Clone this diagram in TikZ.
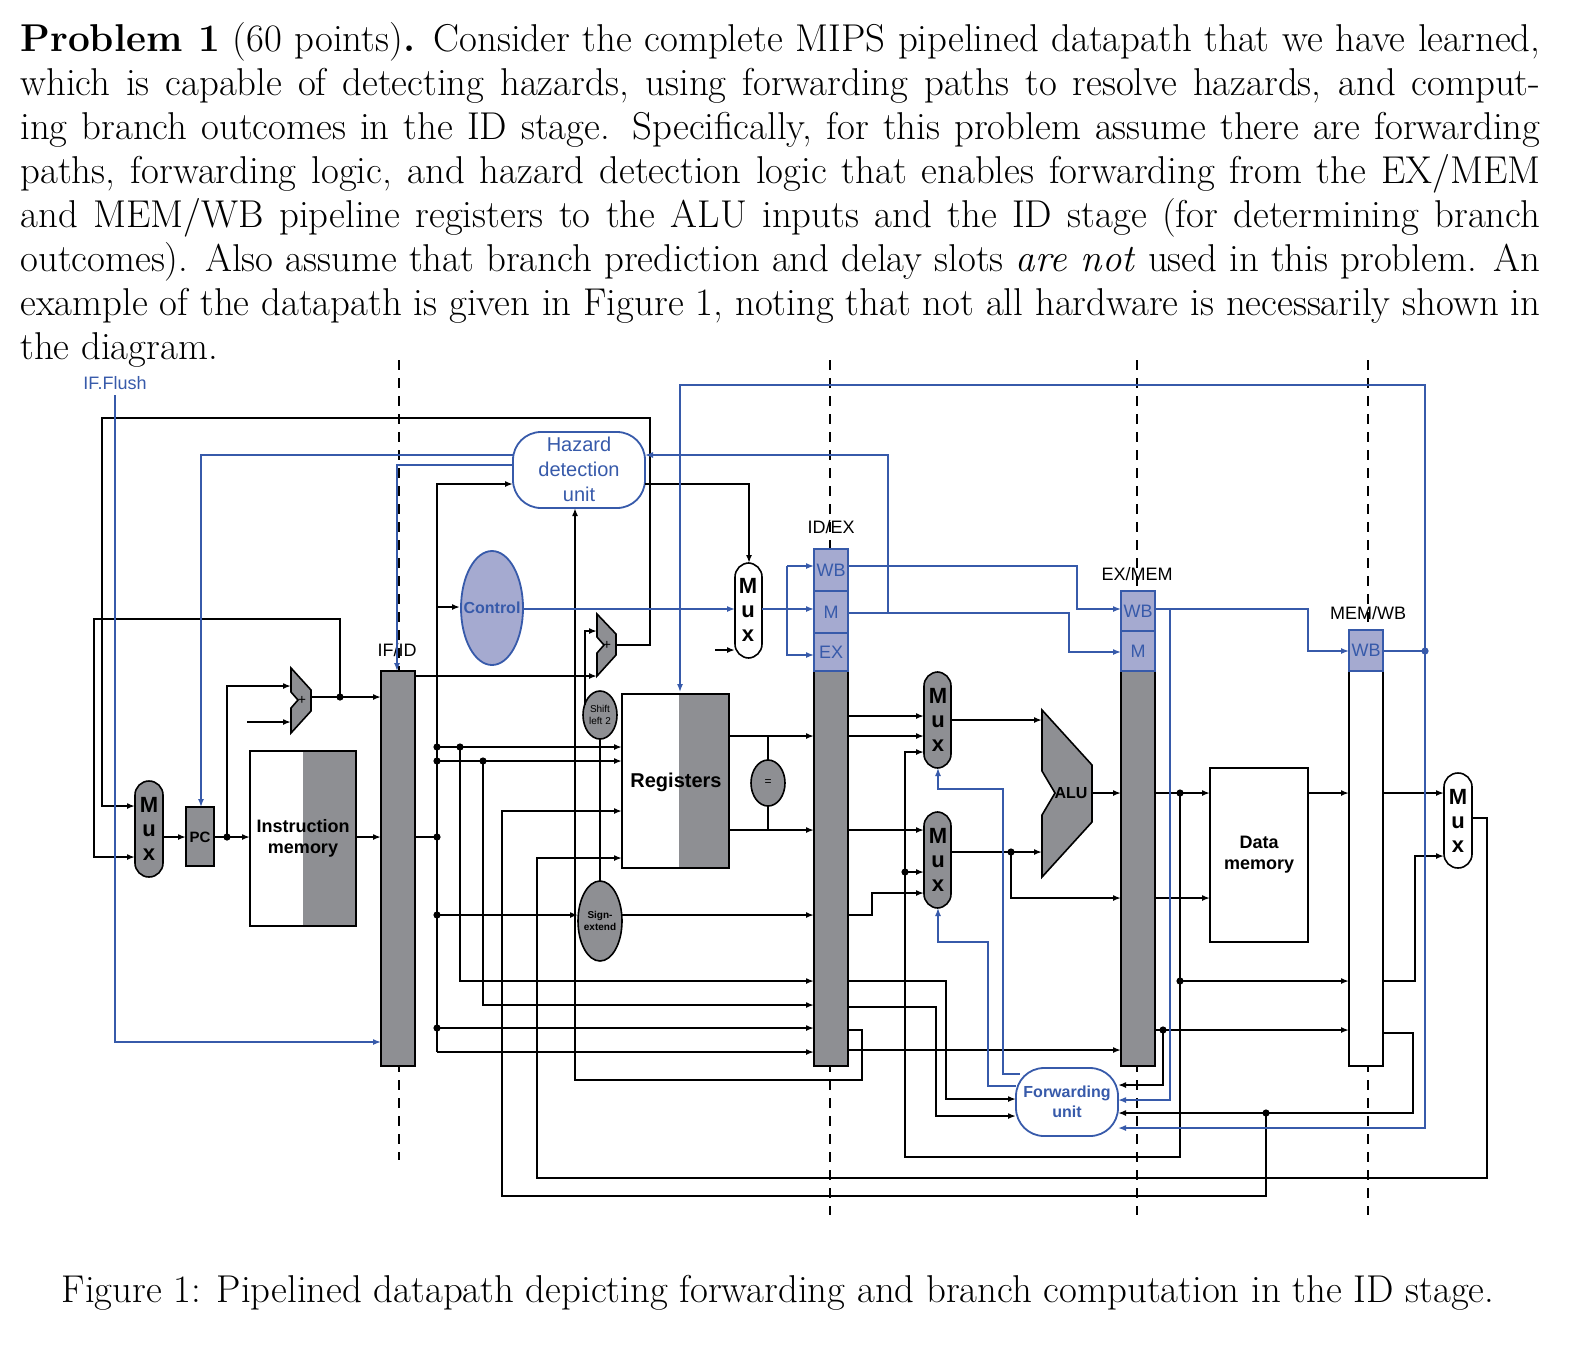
\documentclass[tikz,border=0pt]{standalone}
\usepackage{fontspec}
\usetikzlibrary{arrows.meta,shapes.geometric}
\newfontfamily\dfont{Liberation Sans}
\definecolor{bl}{RGB}{55,90,170}
\definecolor{bfill}{RGB}{165,170,208}
\definecolor{gf}{RGB}{142,143,147}
\begin{document}
\begin{tikzpicture}[x=0.5pt,y=-0.5pt,
  a/.style={-{Latex[length=4pt,width=3pt]},line width=0.8pt},
  l/.style={line width=0.8pt},
  ab/.style={-{Latex[length=4pt,width=3pt]},draw=bl,line width=0.7pt},
  lb/.style={draw=bl,line width=0.7pt},
  reg/.style={draw,line width=0.8pt,fill=gf},
  dsh/.style={dashed,line width=0.6pt,dash pattern=on 5pt off 4pt},
  t/.style={font=\dfont\fontsize{9}{10}\selectfont},
  tb/.style={font=\dfont\bfseries\fontsize{9}{10.5}\selectfont,align=center},
  mx/.style={font=\dfont\bfseries\fontsize{11}{12}\selectfont,align=center,inner sep=0pt}]
\useasboundingbox (0,0) rectangle (1572,1355);
\node[anchor=north west,text width=760pt,align=justify,inner sep=0pt,font=\fontsize{19.4}{22}\selectfont] (para) at (20,22)
{\textbf{Problem 1} (60 points)\textbf{.} Consider the complete MIPS pipelined datapath that we have learned, which is capable of detecting hazards, using forwarding paths to resolve hazards, and computing branch outcomes in the ID stage. Specifically, for this problem assume there are forwarding paths, forwarding logic, and hazard detection logic that enables forwarding from the EX/MEM and MEM/WB pipeline registers to the ALU inputs and the ID stage (for determining branch outcomes). Also assume that branch prediction and delay slots \emph{are not} used in this problem. An example of the datapath is given in Figure 1, noting that not all hardware is necessarily shown in the diagram.};
\node[font=\fontsize{19.4}{22}\selectfont] (cap) at (778,1293) {Figure 1: Pipelined datapath depicting forwarding and branch computation in the ID stage.};

% dashed stage lines
\draw[dsh] (399,360) -- (399,1160);
\draw[dsh] (830,360) -- (830,1215);
\draw[dsh] (1137,360) -- (1137,1215);
\draw[dsh] (1368,360) -- (1368,1215);

% pipeline registers
\draw[reg] (381,671) rectangle (415,1066); \node[t] (lifid) at (397,650) {IF/ID};
\draw[reg] (814,671) rectangle (848,1066); \node[t] (lidex) at (831,527) {ID/EX};
\draw[reg] (1121,671) rectangle (1155,1066); \node[t] (lexm) at (1137,574) {EX/MEM};
\draw[line width=0.8pt,fill=white] (1349,671) rectangle (1383,1066); \node[t] (lmw) at (1368,613) {MEM/WB};
\foreach \y/\h/\s in {549/591/WB,591/633/M,633/671/EX}
  \draw[draw=bl,fill=bfill,line width=0.7pt] (814,\y) rectangle node[t,text=bl]{\s} (848,\h);
\foreach \y/\h/\s in {591/631/WB,631/671/M}
  \draw[draw=bl,fill=bfill,line width=0.7pt] (1121,\y) rectangle node[t,text=bl]{\s} (1155,\h);
\draw[draw=bl,fill=bfill,line width=0.7pt] (1349,630) rectangle node[t,text=bl]{WB} (1383,671);

% units
\draw[bl,line width=0.9pt,rounded corners=14pt,fill=white] (513,432) rectangle (645,508);
\node[t,text=bl,align=center,font=\dfont\fontsize{10}{12.5}\selectfont] (haz) at (579,469) {Hazard\\detection\\unit};
\draw[bl,line width=0.9pt,fill=bfill] (492,608) ellipse (31 and 57);
\node[font=\dfont\bfseries\fontsize{8}{9}\selectfont,text=bl] (ctrl) at (492,608) {Control};
\draw[line width=0.8pt,fill=gf,rounded corners=7pt] (135,781) rectangle (163,877);
\node[mx] (mux1) at (149,829) {M\\u\\x};
\draw[reg] (186,807) rectangle (214,866); \node[font=\dfont\bfseries\fontsize{7.5}{8}\selectfont] (pc) at (200,837) {PC};
\draw[line width=0.8pt,fill=white] (250,751) rectangle (356,926);
\fill[gf] (303,751) rectangle (356,926); \draw[line width=0.8pt] (250,751) rectangle (356,926);
\node[tb] (imem) at (303,838) {Instruction\\memory};
\draw[reg] (291,668) -- (311,690) -- (311,711) -- (291,733) -- (291,708) -- (298,700) -- (291,692) -- cycle;
\node[font=\dfont\fontsize{7}{8}\selectfont] (add1) at (302,700) {+};
\draw[reg] (597,614) -- (616,634) -- (616,655) -- (597,676) -- (597,653) -- (604,645) -- (597,637) -- cycle;
\node[font=\dfont\fontsize{7}{8}\selectfont] (add2) at (607,645) {+};
\draw[reg] (600,715) ellipse (17 and 24);
\node[font=\dfont\fontsize{5}{6}\selectfont,align=center] (sl2) at (600,715) {Shift\\left 2};
\draw[reg] (600,921) ellipse (22 and 40);
\node[font=\dfont\bfseries\fontsize{5}{6}\selectfont,align=center] (sext) at (600,921) {Sign-\\extend};
\fill[gf] (679,694) rectangle (729,868); \draw[line width=0.8pt] (622,694) rectangle (729,868);
\node[tb,font=\dfont\bfseries\fontsize{10}{12}\selectfont] (regs) at (676,782) {Registers};
\draw[l] (768,736) -- (768,830);
\draw[reg] (768,783) ellipse (17 and 23); \node[font=\dfont\fontsize{6}{7}\selectfont] (eq) at (768,783) {=};
\draw[line width=0.8pt,fill=white,rounded corners=7pt] (735,563) rectangle (762,658);
\node[mx] (mux2) at (748,610) {M\\u\\x};
\draw[line width=0.8pt,fill=gf,rounded corners=7pt] (924,672) rectangle (951,768);
\node[mx] (mux3) at (938,720) {M\\u\\x};
\draw[line width=0.8pt,fill=gf,rounded corners=7pt] (924,812) rectangle (951,908);
\node[mx] (mux4) at (938,860) {M\\u\\x};
\draw[reg] (1042,710) -- (1092,765) -- (1092,822) -- (1042,877) -- (1042,815) -- (1055,793) -- (1042,771) -- cycle;
\node[font=\dfont\bfseries\fontsize{8}{9}\selectfont] (alu) at (1071,793) {ALU};
\draw[line width=0.8pt] (1210,768) rectangle (1308,942);
\node[tb] (dmem) at (1259,855) {Data\\memory};
\draw[line width=0.8pt,fill=white,rounded corners=7pt] (1444,773) rectangle (1472,868);
\node[mx] (mux5) at (1458,821) {M\\u\\x};
\draw[bl,line width=0.9pt,rounded corners=14pt,fill=white] (1016,1068) rectangle (1118,1136);
\node[t,text=bl,align=center,font=\dfont\bfseries\fontsize{8}{10}\selectfont] (fwd) at (1067,1102) {Forwarding\\unit};
\node[t,text=bl] (flush) at (115,383) {IF.Flush};

% ---- black connections ----
\draw[a] (616,645) -- (650,645) -- (650,418) -- (102,418) -- (102,806) -- (135,806);
\draw[a] (340,697) -- (340,619) -- (94,619) -- (94,857) -- (135,857);
\draw[a] (163,837) -- (186,837);
\draw[a] (214,837) -- (250,837);
\draw[a] (227,837) -- (227,686) -- (291,686);
\draw[a] (247,722) -- (291,722);
\draw[a] (311,697) -- (381,697);
\draw[a] (356,837) -- (381,837);
\draw[a] (415,676) -- (597,676);
\draw[a] (585,705) -- (585,631) -- (597,631);
\draw[l] (600,739) -- (600,881);
\draw[l] (415,837) -- (437,837);
\draw[a] (437,1052) -- (437,484) -- (513,484);
\draw[a] (437,607) -- (460,607);
\draw[a] (437,747) -- (622,747);
\draw[a] (437,761) -- (622,761);
\draw[a] (460,747) -- (460,981) -- (814,981);
\draw[a] (483,761) -- (483,1005) -- (814,1005);
\draw[a] (437,915) -- (578,915);
\draw[a] (622,915) -- (814,915);
\draw[a] (437,1028) -- (814,1028);
\draw[a] (437,1052) -- (814,1052);
\draw[a] (848,1050) -- (1121,1050);
\draw[a] (848,1030) -- (862,1030) -- (862,1080) -- (575,1080) -- (575,508);
\draw[a] (848,981) -- (946,981) -- (946,1099) -- (1016,1099);
\draw[a] (848,1007) -- (936,1007) -- (936,1116) -- (1016,1116);
\draw[a] (645,484) -- (749,484) -- (749,563);
\draw[a] (715,650) -- (735,650);
\draw[a] (729,736) -- (814,736);
\draw[a] (729,830) -- (814,830);
\draw[a] (848,716) -- (924,716);
\draw[a] (848,736) -- (924,736);
\draw[a] (848,830) -- (924,830);
\draw[a] (848,915) -- (872,915) -- (872,893) -- (924,893);
\draw[a] (905,872) -- (924,872);
\draw[a] (1180,981) -- (1180,1157) -- (905,1157) -- (905,752) -- (924,752);
\draw[a] (951,720) -- (1042,720);
\draw[a] (951,852) -- (1042,852);
\draw[a] (1011,852) -- (1011,898) -- (1121,898);
\draw[a] (1092,793) -- (1121,793);
\draw[a] (1155,793) -- (1210,793);
\draw[l] (1180,793) -- (1180,981);
\draw[a] (1155,898) -- (1210,898);
\draw[a] (1180,981) -- (1349,981);
\draw[a] (1155,1030) -- (1349,1030);
\draw[a] (1163,1030) -- (1163,1085) -- (1118,1085);
\draw[a] (1308,793) -- (1349,793);
\draw[a] (1383,793) -- (1444,793);
\draw[a] (1383,981) -- (1415,981) -- (1415,856) -- (1444,856);
\draw[a] (1383,1033) -- (1413,1033) -- (1413,1113) -- (1118,1113);
\draw[a] (1266,1113) -- (1266,1196) -- (502,1196) -- (502,811) -- (622,811);
\draw[a] (1472,818) -- (1487,818) -- (1487,1178) -- (537,1178) -- (537,858) -- (622,858);
\foreach \p in {(227,837),(340,697),(437,837),(437,747),(437,761),(460,747),(483,761),(437,915),(437,1028),(905,872),(1011,852),(1180,793),(1180,981),(1163,1030),(1266,1113)}
  \fill \p circle (1.8pt);

% ---- blue connections ----
\draw[ab] (115,395) -- (115,1042) -- (381,1042);
\draw[ab] (513,455) -- (201,455) -- (201,807);
\draw[ab] (513,465) -- (397,465) -- (397,671);
\draw[ab] (523,609) -- (735,609);
\draw[lb] (762,609) -- (787,609);
\draw[ab] (787,566) -- (814,566);
\draw[ab] (787,609) -- (814,609);
\draw[ab] (787,566) -- (787,655) -- (814,655);
\draw[ab] (848,566) -- (1077,566) -- (1077,609) -- (1121,609);
\draw[ab] (848,613) -- (1069,613) -- (1069,652) -- (1121,652);
\draw[ab] (888,613) -- (888,455) -- (645,455);
\draw[ab] (1155,609) -- (1308,609) -- (1308,651) -- (1349,651);
\draw[ab] (1170,609) -- (1170,1100) -- (1118,1100);
\draw[lb] (1383,651) -- (1425,651);
\draw[ab] (1425,651) -- (1425,1128) -- (1118,1128);
\draw[ab] (1425,651) -- (1425,385) -- (680,385) -- (680,692);
\fill[bl] (1425,651) circle (1.8pt);
\draw[ab] (1020,1074) -- (1003,1074) -- (1003,789) -- (938,789) -- (938,768);
\draw[ab] (1016,1086) -- (988,1086) -- (988,942) -- (938,942) -- (938,908);
\end{tikzpicture}
\end{document}
